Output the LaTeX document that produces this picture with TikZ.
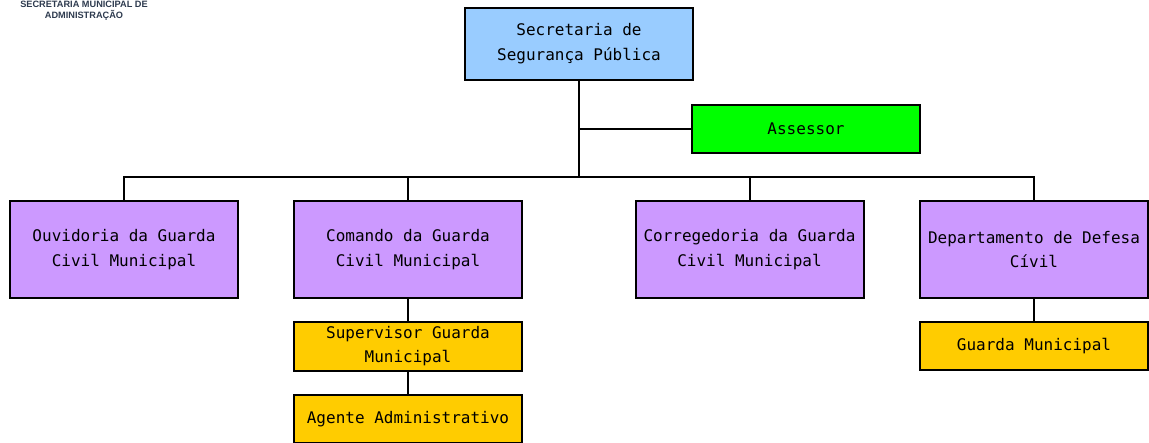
\documentclass[tikz,border=0pt]{standalone}
\usepackage{fontspec}
\setmainfont{Liberation Sans}
\newfontfamily\monofonte{DejaVu Sans Mono}
\usepackage{tikz}
\definecolor{azul}{RGB}{153,204,255}
\definecolor{verde}{RGB}{0,255,0}
\definecolor{lilas}{RGB}{204,153,255}
\definecolor{ouro}{RGB}{255,204,0}
\definecolor{cabecalho}{RGB}{45,58,78}
\tikzstyle{caixa} = [rectangle, draw=black, line width=2pt, minimum width=228pt, align=center, font=\monofonte\fontsize{16}{24.5}\selectfont]
\tikzstyle{ligacao} = [line width=2pt]

\begin{document}
\begin{tikzpicture}[x=1pt, y=1pt]
        \useasboundingbox (0,0) rectangle (1149,-442);
        \clip (0,0) rectangle (1149,-442);

        \node (cab) [anchor=north, inner sep=0pt, align=center, text=cabecalho, font=\bfseries\fontsize{9.2}{10.5}\selectfont] at (84,-1) {SECRETARIA MUNICIPAL DE\\ADMINISTRAÇÃO};

        \node (sec) [caixa, minimum height=72pt, fill=azul] at (579,-43.5) {Secretaria de\\Segurança Pública};
        \node (ass) [caixa, minimum height=48pt, fill=verde] at (806,-129) {Assessor};

        \coordinate (barra) at (579,-177);

        \node (ouv) [caixa, minimum height=97pt, fill=lilas] at (124,-249.5)  {Ouvidoria da Guarda\\Civil Municipal};
        \node (com) [caixa, minimum height=97pt, fill=lilas] at (408,-249.5)  {Comando da Guarda\\Civil Municipal};
        \node (cor) [caixa, minimum height=97pt, fill=lilas] at (749.5,-249.5) {Corregedoria da Guarda\\Civil Municipal};
        \node (def) [caixa, minimum height=97pt, fill=lilas] at (1034,-249.5) {Departamento de Defesa\\Cívil};

        \node (sup) [caixa, minimum height=49pt, fill=ouro] at (408,-346)  {Supervisor Guarda\\Municipal};
        \node (age) [caixa, minimum height=48pt, fill=ouro] at (408,-419)  {Agente Administrativo};
        \node (gua) [caixa, minimum height=48pt, fill=ouro] at (1034,-346) {Guarda Municipal};

        \draw[ligacao] (sec.south) -- (barra);
        \draw[ligacao] (ass.west) -- (ass.west -| sec.south);
        \draw[ligacao] (ouv.north) -- (ouv.north |- barra) -- (def.north |- barra) -- (def.north);
        \draw[ligacao] (com.north) -- (com.north |- barra);
        \draw[ligacao] (cor.north) -- (cor.north |- barra);
        \draw[ligacao] (com) -- (sup);
        \draw[ligacao] (sup) -- (age);
        \draw[ligacao] (def) -- (gua);
    \end{tikzpicture}
\end{document}
